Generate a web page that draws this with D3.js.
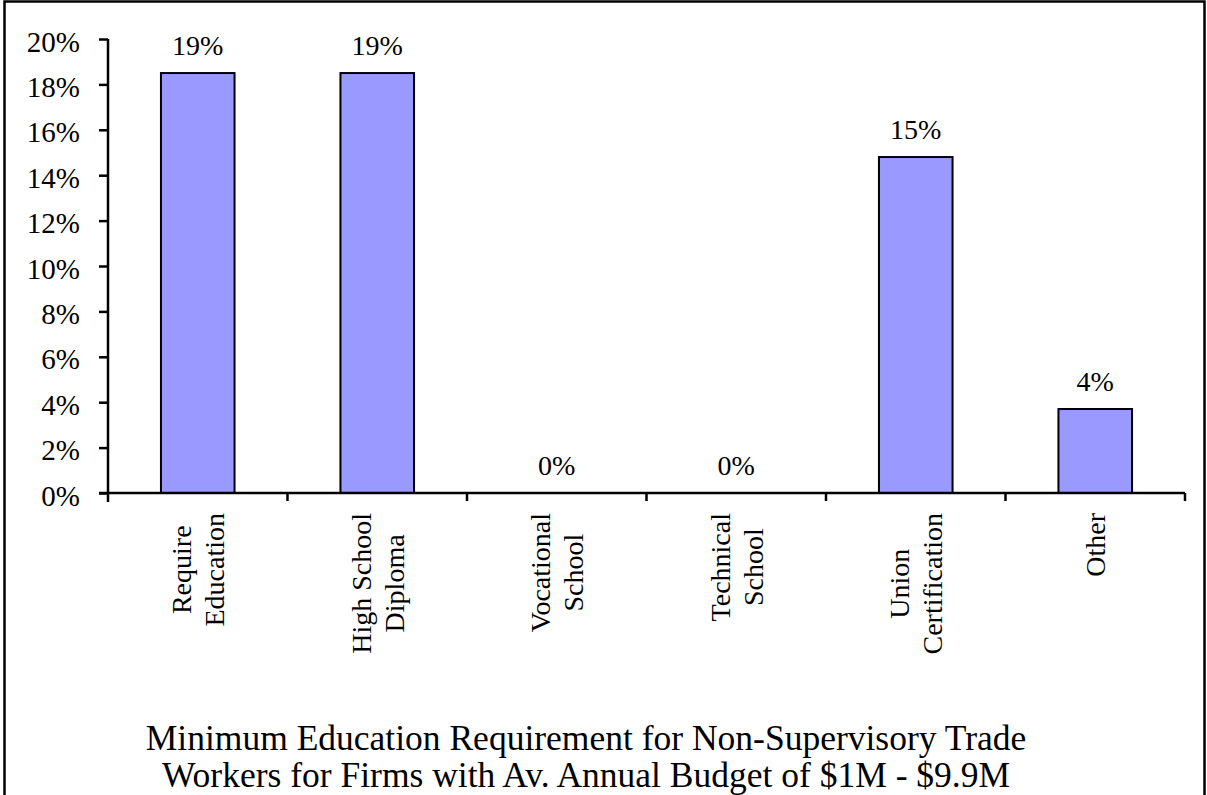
<!DOCTYPE html>
<html>
<head>
<meta charset="utf-8">
<script src="https://cdn.jsdelivr.net/npm/d3@7"></script>
<style>
  html, body { margin: 0; padding: 0; background: #fff; }
  svg { display: block; }
  text { font-family: "Liberation Serif", "Times New Roman", serif; fill: #000; }
</style>
</head>
<body>
<svg id="chart" width="1207" height="795"></svg>
<script>
// ---- data ----
const categories = [
  ["Require", "Education"],
  ["High School", "Diploma"],
  ["Vocational", "School"],
  ["Technical", "School"],
  ["Union", "Certification"],
  ["Other"]
];
const values = [18.5, 18.5, 0, 0, 14.8, 3.7];
const yTicks = [0, 2, 4, 6, 8, 10, 12, 14, 16, 18, 20];
const titleLines = [
  "Minimum Education Requirement for Non-Supervisory Trade",
  "Workers for Firms with Av. Annual Budget of $1M - $9.9M"
];

// ---- layout ----
const W = 1207, H = 795;
const plot = { left: 108, right: 1185, top: 39, bottom: 493 };
const svg = d3.select("#chart");

// frame
svg.append("rect")
  .attr("x", 4.5).attr("y", 1.5)
  .attr("width", 1200).attr("height", 820)
  .attr("fill", "none").attr("stroke", "#000").attr("stroke-width", 2.5);

const keys = categories.map((c, i) => i);
const x = d3.scaleBand().domain(keys).range([plot.left, plot.right]).padding(0);
const y = d3.scaleLinear().domain([0, 20]).range([plot.bottom, plot.top]);

// bars
const barW = x.bandwidth() * 0.41;
svg.append("g").selectAll("rect")
  .data(values.map((v, i) => ({ v, i })).filter(d => d.v > 0))
  .join("rect")
  .attr("x", d => x(d.i) + x.bandwidth() / 2 - barW / 2)
  .attr("y", d => y(d.v))
  .attr("width", barW)
  .attr("height", d => y(0) - y(d.v))
  .attr("fill", "#9999FF")
  .attr("stroke", "#000")
  .attr("stroke-width", 2);

// y axis
const yAxis = d3.axisLeft(y)
  .tickValues(yTicks)
  .tickSize(9)
  .tickPadding(19)
  .tickFormat(d => d + "%");
const gy = svg.append("g")
  .attr("transform", `translate(${plot.left},0)`)
  .call(yAxis);
gy.select(".domain").attr("stroke", "#000").attr("stroke-width", 2.5)
  .attr("d", `M0,${plot.top}V${plot.bottom + 9}`);
gy.selectAll(".tick line").attr("stroke", "#000").attr("stroke-width", 2.5);
gy.selectAll(".tick text")
  .attr("font-size", 29)
  .attr("font-family", "Liberation Serif, Times New Roman, serif")
  .attr("dy", "0.42em");

// x axis line with boundary ticks
const xBounds = d3.range(categories.length + 1).map(i => plot.left + i * x.step());
const gx = svg.append("g");
gx.append("line")
  .attr("x1", plot.left - 9).attr("x2", plot.right)
  .attr("y1", plot.bottom).attr("y2", plot.bottom)
  .attr("stroke", "#000").attr("stroke-width", 2.5);
gx.selectAll("line.t").data(xBounds.slice(1)).join("line")
  .attr("class", "t")
  .attr("x1", d => d).attr("x2", d => d)
  .attr("y1", plot.bottom).attr("y2", plot.bottom + 8)
  .attr("stroke", "#000").attr("stroke-width", 2.5);

// category labels (rotated, lines centered in a block whose top is fixed)
const labelTop = plot.bottom + 20;
const fsCat = 28, lineH = 33;
categories.forEach((lines, i) => {
  const cx = x(i) + x.bandwidth() / 2;
  const g = svg.append("g");
  const t = g.append("text")
    .attr("font-size", fsCat)
    .attr("text-anchor", "middle");
  lines.forEach((ln, j) => {
    t.append("tspan").attr("x", 0)
      .attr("y", (j - (lines.length - 1) / 2) * lineH)
      .attr("dy", "0.35em")
      .text(ln);
  });
  const maxLen = d3.max(t.selectAll("tspan").nodes(), n => n.getComputedTextLength());
  g.attr("transform", `translate(${cx},${labelTop + maxLen / 2}) rotate(-90)`);
});

// value labels
svg.append("g").selectAll("text")
  .data(values.map((v, i) => ({ v, i })))
  .join("text")
  .attr("x", d => x(d.i) + x.bandwidth() / 2)
  .attr("y", d => y(d.v) - 18)
  .attr("text-anchor", "middle")
  .attr("font-size", 28)
  .text(d => d3.format(".0%")(d.v / 100));

// title
const title = svg.append("text")
  .attr("text-anchor", "middle")
  .attr("font-size", 35.5);
titleLines.forEach((ln, j) => {
  title.append("tspan").attr("x", 586).attr("y", 750 + j * 37).text(ln);
});
</script>
</body>
</html>
